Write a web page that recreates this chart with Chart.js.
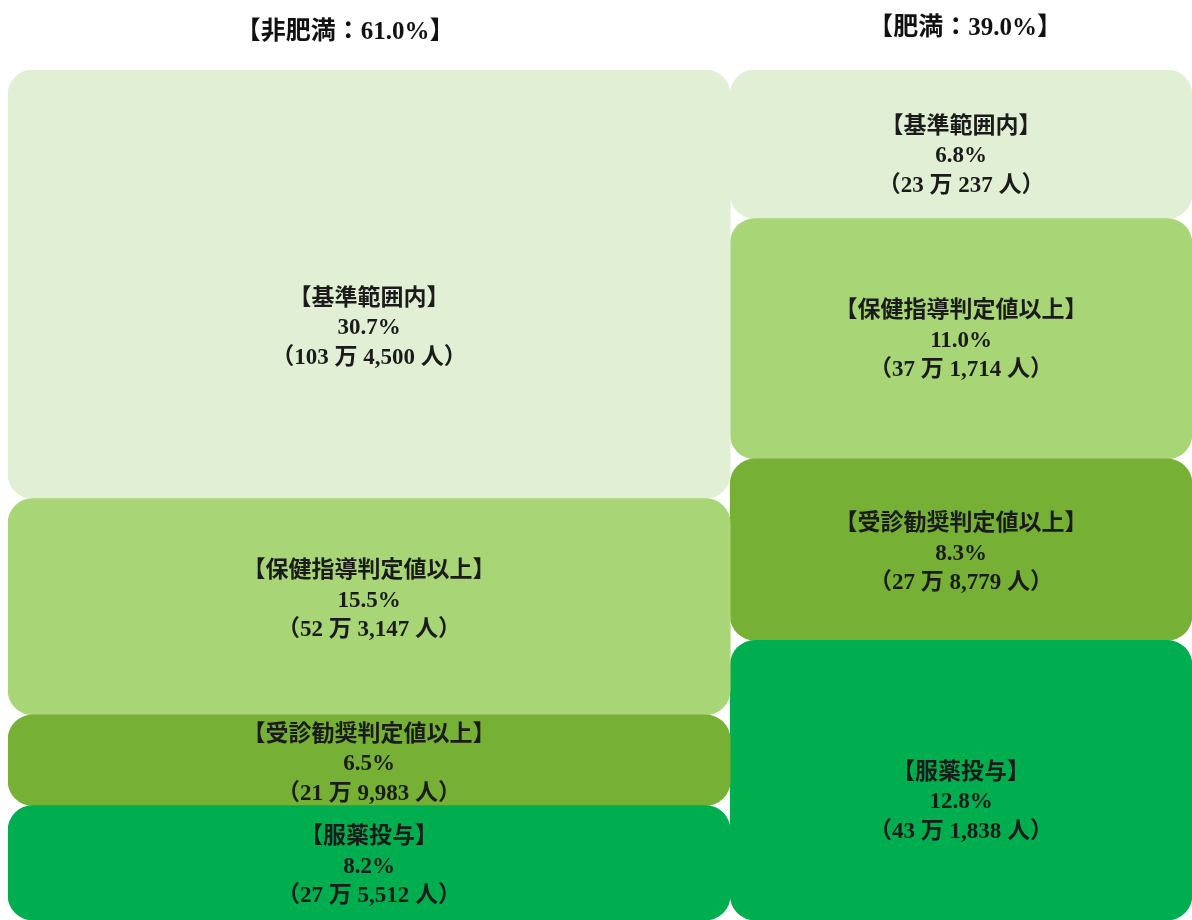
<!DOCTYPE html>
<html>
<head>
<meta charset="utf-8">
<script src="https://cdn.jsdelivr.net/npm/chart.js@4.4.1/dist/chart.umd.min.js"></script>
<style>
  html, body { margin: 0; padding: 0; background: #fff; }
  #wrap { width: 1192px; height: 920px; }
</style>
</head>
<body>
<div id="wrap"><canvas id="myChart"></canvas></div>
<script>
// columns (obesity) and their share of everyone
var groups = ["非肥満", "肥満"];
var groupShare = [61.0, 39.0];

// segments inside each column, top to bottom
var levels = ["基準範囲内", "保健指導判定値以上", "受診勧奨判定値以上", "服薬投与"];
var nonObesePct = [30.7, 15.5, 6.5, 8.2];
var obesePct = [6.8, 11.0, 8.3, 12.8];
var nonObeseCount = [1034500, 523147, 219983, 275512];
var obeseCount = [230237, 371714, 278779, 431838];

var levelColors = ["#E1F0D5", "#A8D576", "#76B136", "#00AE50"];
// small vertical nudges for the text blocks (px)
var nonObeseNudge = [44, -6, 4, 4];
var obeseNudge = [12, 2, 4, 22];
// title placement tweaks (px)
var titleShiftX = [-24, 4];
var titleY = [33, 29];

var pcts = [nonObesePct, obesePct];
var counts = [nonObeseCount, obeseCount];
var nudges = [nonObeseNudge, obeseNudge];

function fmtCount(n) {
  var man = Math.floor(n / 10000);
  var rest = n % 10000;
  return "（" + man + " 万 " + rest.toLocaleString("en-US") + " 人）";
}

var datasets = [];
var start = 0;
groups.forEach(function (g, gi) {
  var share = groupShare[gi];
  var center = start + share / 2;
  var vals = pcts[gi];
  var total = vals.reduce(function (a, b) { return a + b; }, 0);
  var acc = 0;
  var pts = vals.map(function (v) {
    var lo = acc / total * 100;
    acc += v;
    return { x: center, y: [lo, acc / total * 100] };
  });
  datasets.push({
    label: g,
    data: pts,
    backgroundColor: levelColors,
    borderWidth: 0,
    borderRadius: 25,
    borderSkipped: false,
    grouped: false,
    barThickness: function (ctx) {
      var xs = ctx.chart.scales.x;
      return xs.getPixelForValue(share) - xs.getPixelForValue(0);
    }
  });
  start += share;
});

var FONT_FAMILY = '"Liberation Serif", "Noto Sans CJK JP", serif';

var labelsPlugin = {
  id: "segLabels",
  afterDatasetsDraw: function (chart) {
    var ctx = chart.ctx;
    ctx.save();
    ctx.fillStyle = "#1b1b1b";
    ctx.textAlign = "center";
    ctx.textBaseline = "middle";
    ctx.font = "bold 23px " + FONT_FAMILY;
    chart.data.datasets.forEach(function (ds, gi) {
      var meta = chart.getDatasetMeta(gi);
      meta.data.forEach(function (bar, i) {
        var cy = (bar.y + bar.base) / 2 + nudges[gi][i];
        var lines = ["【" + levels[i] + "】", pcts[gi][i].toFixed(1) + "%", fmtCount(counts[gi][i])];
        lines.forEach(function (t, k) {
          ctx.fillText(t, bar.x, cy + (k - 1) * 29.5);
        });
      });
    });
    ctx.restore();
  }
};

var titlePlugin = {
  id: "groupTitles",
  afterDraw: function (chart) {
    var ctx = chart.ctx;
    var xs = chart.scales.x;
    ctx.save();
    ctx.fillStyle = "#111";
    ctx.textAlign = "center";
    ctx.textBaseline = "middle";
    ctx.font = "bold 25px " + FONT_FAMILY;
    var s = 0;
    groups.forEach(function (g, gi) {
      var cx = xs.getPixelForValue(s + groupShare[gi] / 2) + titleShiftX[gi];
      ctx.fillText("【" + g + "：" + groupShare[gi].toFixed(1) + "%】", cx, titleY[gi]);
      s += groupShare[gi];
    });
    ctx.restore();
  }
};

var config = {
  type: "bar",
  data: { datasets: datasets },
  options: {
    responsive: true,
    maintainAspectRatio: false,
    animation: false,
    layout: { padding: { top: 70, left: 8, right: 0, bottom: 0 } },
    scales: {
      x: { type: "linear", min: 0, max: 100, offset: false, display: false },
      y: { type: "linear", min: 0, max: 100, reverse: true, display: false }
    },
    plugins: {
      legend: { display: false },
      tooltip: { enabled: false }
    }
  },
  plugins: [labelsPlugin, titlePlugin]
};

var chart = new Chart(document.getElementById("myChart").getContext("2d"), config);
</script>
</body>
</html>
